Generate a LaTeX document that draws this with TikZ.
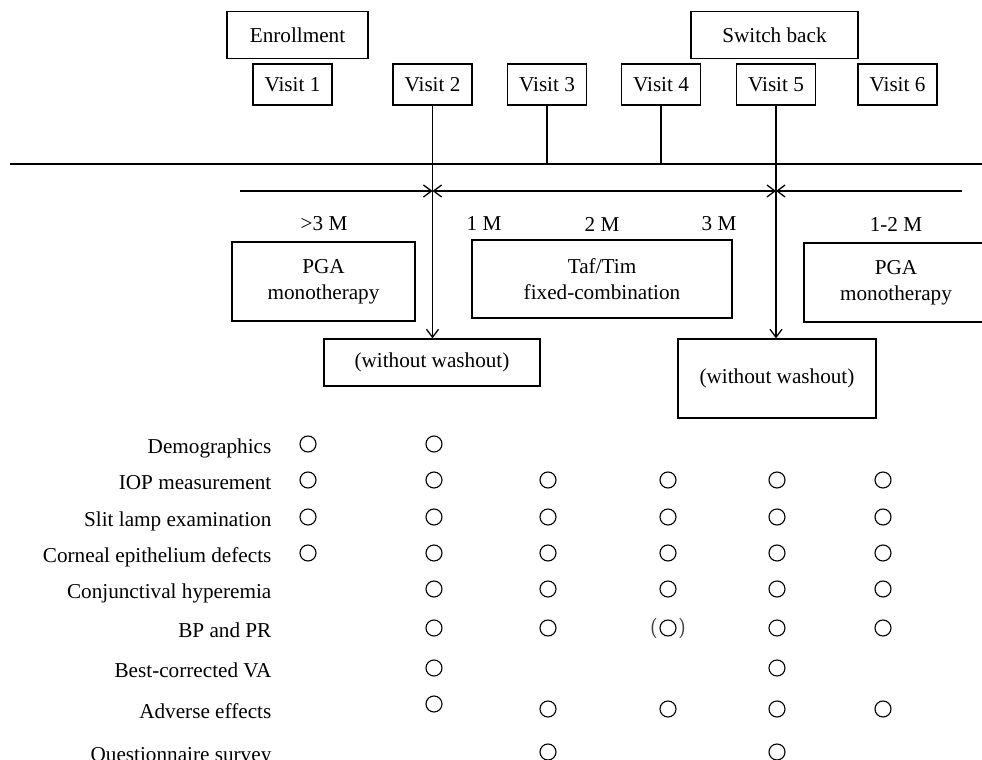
\documentclass[tikz,border=0pt]{standalone}
\usepackage{fontspec}
\setmainfont{Liberation Serif}
\usetikzlibrary{arrows.meta}

\begin{document}
\begin{tikzpicture}[x=0.5pt,y=-0.5pt,line width=0.65pt,
	>={Straight Barb[length=4pt,width=6pt]},
	font=\fontsize{10.6}{13}\selectfont,
	box/.style={draw,align=center,inner sep=0pt},
	chk/.style={draw,circle,minimum size=8pt,inner sep=0pt,line width=0.55pt},
	rowlabel/.style={anchor=base east,inner sep=0pt}]
	\path[use as bounding box,clip] (0,0) rectangle (982,760);
	% Header boxes
	\node[box,minimum width=70.5pt,minimum height=23.5pt] (enroll) at (297.5,35) {Enrollment};
	\node[box,minimum width=83.5pt,minimum height=23.5pt] (switch) at (774.5,35) {Switch back};
	\foreach \i/\x in {1/292.5,2/432.5,3/547,4/661,5/776,6/897.5}
		\node[box,minimum width=39.5pt,minimum height=20.5pt] (v\i) at (\x,84.5) {Visit \i};
	% Time line
	\coordinate (l0) at (10,164);
	\coordinate (l1) at (982,164);
	\draw (l0) -- (l1);
	\draw (v3.south) -- (v3.south |- l0);
	\draw (v4.south) -- (v4.south |- l0);
	% Treatment periods
	\coordinate (t0) at (240,191);
	\coordinate (t1) at (432.5,191);
	\coordinate (t2) at (776,191);
	\coordinate (t3) at (962,191);
	\draw[->] (t0) -- (t1);
	\draw[<->] (t1) -- (t2);
	\draw[<-] (t2) -- (t3);
	\foreach \x/\t [count=\k] in {324/{>3 M},484/1 M,602/2 M,719/3 M,896/1-2 M}
		\node (m\k) at (\x,224) {\t};
	\node[box,minimum width=91.5pt,minimum height=39.5pt] (pga1) at (323.5,281.5) {PGA\\monotherapy};
	\node[box,minimum width=130pt,minimum height=39pt] (taf) at (602,279) {Taf/Tim\\fixed-combination};
	\node[box,minimum width=92pt,minimum height=39.5pt] (pga2) at (896,282.5) {PGA\\monotherapy};
	% Switches
	\node[box,minimum width=108pt,minimum height=23.5pt] (wo1) at (432,362.5) {(without washout)};
	\node[box,minimum width=99pt,minimum height=39.5pt] (wo2) at (777,378.5) {(without washout)};
	\draw[->] (v2.south) -- (v2.south |- wo1.north);
	\draw[->] (v5.south) -- (v5.south |- wo2.north);
	% Examinations
	\foreach \y/\t/\cs [count=\r] in {444/Demographics/{1,2},480/IOP measurement/{1,...,6},
			517/Slit lamp examination/{1,...,6},553/Corneal epithelium defects/{1,...,6},
			589/Conjunctival hyperemia/{2,...,6},628/BP and PR/{2,3,5,6},
			668/Best-corrected VA/{2,5},709/Adverse effects/{3,...,6},752/Questionnaire survey/{3,5}}{
		\node[rowlabel] (r\r) at (272,\y+9) {\t};
		\foreach \c in \cs {
			\pgfmathsetmacro{\cx}{{308,434,548,668,777,883}[\c-1]}
			\node[chk] (c\r-\c) at (\cx,\y) {};
		}
	}
	\node[chk] (c8-2) at (434,704) {};
	\node[chk] (c6-4) at (668,628) {};
	\node[anchor=east,inner sep=0.4pt,font=\fontsize{10}{12}\sffamily,text=black!75] (c6-4l) at (c6-4.west) {(};
	\node[anchor=west,inner sep=0.4pt,font=\fontsize{10}{12}\sffamily,text=black!75] (c6-4r) at (c6-4.east) {)};
\end{tikzpicture}
\end{document}
